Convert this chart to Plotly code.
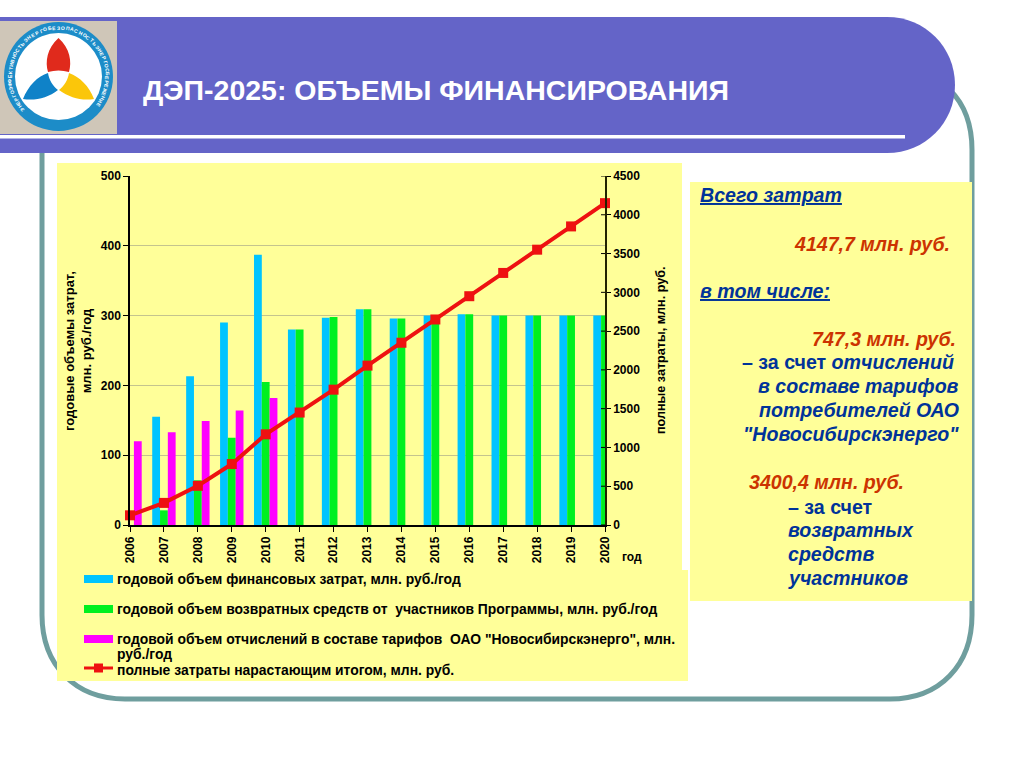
import math
import plotly.graph_objects as go

W, H = 1024, 768
years = list(range(2006, 2021))
total_costs = [0, 155, 213, 290, 387, 280, 297, 309, 296, 300, 302, 300, 300, 300, 300]
returned = [0, 21, 64, 125, 205, 280, 298, 309, 296, 300, 302, 300, 300, 300, 300]
tariff = [120, 133, 149, 164, 182, 0, 0, 0, 0, 0, 0, 0, 0, 0, 0]
cumulative = [125, 285, 505, 786, 1169, 1450, 1745, 2055, 2350, 2650, 2950, 3250, 3550, 3850, 4150]

left_ticks = [0, 100, 200, 300, 400, 500]
right_ticks = [0, 500, 1000, 1500, 2000, 2500, 3000, 3500, 4000, 4500]

C_BG = "#FFFF99"
C_HDR = "#6464C8"
C_FRAME = "#6F9E9E"
C_CYAN = "#00C4FF"
C_GREEN = "#00F020"
C_MAG = "#FF00FF"
C_RED = "#EE1111"
C_BLUE = "#003399"
C_RUST = "#CC3300"
FONT = "Liberation Sans"


def px(x):
    return x / W


def py(y):
    return 1 - y / H


def P(x, y):
    return f"{px(x):.5f} {py(y):.5f}"


def rect(x0, y0, x1, y1, color):
    return dict(type="rect", xref="paper", yref="paper", x0=px(x0), x1=px(x1), y0=py(y0), y1=py(y1),
                fillcolor=color, line_width=0, layer="below")


def path(d, fill=None, line=None, lw=0):
    s = dict(type="path", xref="paper", yref="paper", path=d, layer="below",
             line=dict(width=lw, color=line or "rgba(0,0,0,0)"))
    if fill:
        s["fillcolor"] = fill
    return s


def text(x, y, s, size=11, color="#000000", anchor="left", angle=0, bold=True, italic=False, align=None):
    t = s
    if bold:
        t = f"<b>{t}</b>"
    if italic:
        t = f"<i>{t}</i>"
    return dict(x=px(x), y=py(y), xref="paper", yref="paper", text=t, showarrow=False,
                xanchor=anchor, yanchor="middle", textangle=angle, align=align or anchor,
                borderpad=0, borderwidth=0,
                font=dict(family=FONT, size=size, color=color))


shapes = []
shapes.append(path(
    f"M {P(42,153)} L {P(42,615)} C {P(42,665)} {P(75,699)} {P(125,699)} "
    f"L {P(890,699)} C {P(940,699)} {P(972,665)} {P(972,615)} L {P(972,150)} "
    f"C {P(972,125)} {P(965,105)} {P(950,90)}",
    line=C_FRAME, lw=5))
shapes.append(path(
    f"M {P(0,17)} L {P(887,17)} C {P(925,17)} {P(955,47)} {P(955,85)} "
    f"C {P(955,123)} {P(925,153)} {P(887,153)} L {P(0,153)} Z", fill=C_HDR))
shapes.append(rect(0, 135, 905, 138.5, "#FFFFFF"))
shapes.append(rect(0, 21, 117, 134, "#CFC6B8"))
shapes.append(dict(type="circle", xref="paper", yref="paper", x0=px(4), x1=px(113), y0=py(22), y1=py(131),
                   fillcolor="#1C8CC8", line_width=0, layer="below"))
shapes.append(dict(type="circle", xref="paper", yref="paper", x0=px(15), x1=px(102), y0=py(33), y1=py(120),
                   fillcolor="#FFFFFF", line_width=0, layer="below"))
shapes.append(path(f"M {P(58.5,38)} C {P(70,48)} {P(72,62)} {P(69,72)} C {P(62,70)} {P(55,70)} {P(48,72)} "
                   f"C {P(45,62)} {P(47,48)} {P(58.5,38)} Z", fill="#E02A1C"))
shapes.append(path(f"M {P(23,99)} C {P(28,86)} {P(38,76)} {P(48,73)} C {P(49,80)} {P(53,86)} {P(58,90)} "
                   f"C {P(48,98)} {P(35,101)} {P(23,99)} Z", fill="#0F82C8"))
shapes.append(path(f"M {P(94,99)} C {P(89,86)} {P(80,77)} {P(69,73)} C {P(68,80)} {P(64,86)} {P(59,90)} "
                   f"C {P(70,98)} {P(82,101)} {P(94,99)} Z", fill="#FBC60A"))
shapes.append(rect(57, 163, 682, 570, C_BG))
shapes.append(rect(57, 570, 688, 681, C_BG))
shapes.append(rect(690, 182, 972, 601, C_BG))
shapes.append(rect(84, 575, 113, 583, C_CYAN))
shapes.append(rect(84, 605, 113, 613, C_GREEN))
shapes.append(rect(84, 635, 113, 643, C_MAG))
shapes.append(rect(84, 666.5, 113, 669.5, C_RED))
shapes.append(rect(94, 663.5, 103, 672.5, C_RED))
for v in right_ticks:
    shapes.append(dict(type="line", xref="paper", yref="y2", x0=px(601), x1=px(605), y0=v, y1=v,
                       line=dict(color="#000000", width=1)))

LEG = 13.9
RP = 19.6
annotations = [
    text(143, 90, "ДЭП-2025: ОБЪЕМЫ ФИНАНСИРОВАНИЯ", size=28.5, color="#FFFFFF"),
    text(78, 351, "годовые объемы затрат,<br>млн. руб./год", size=13, anchor="center", angle=-90),
    text(661, 351, "полные затраты, млн. руб.", size=12.6, anchor="center", angle=-90),
    text(622, 557, "год", size=12),
    text(117, 579, "годовой объем финансовых затрат, млн. руб./год", size=LEG),
    text(117, 609, "годовой объем возвратных средств от  участников Программы, млн. руб./год", size=LEG),
    text(117, 639, "годовой объем отчислений в составе тарифов  ОАО \"Новосибирскэнерго\", млн.", size=LEG),
    text(117, 654, "руб./год", size=LEG),
    text(117, 670, "полные затраты нарастающим итогом, млн. руб.", size=LEG),
    text(700, 195, "<u>Всего затрат</u>", size=RP, color=C_BLUE, italic=True),
    text(950, 244, "4147,7 млн. руб.", size=RP, color=C_RUST, anchor="right", italic=True),
    text(700, 291, "<u>в том числе:</u>", size=RP, color=C_BLUE, italic=True),
    text(956, 339, "747,3 млн. руб.", size=RP, color=C_RUST, anchor="right", italic=True),
    text(954, 362, "– за счет <i>отчислений</i>", size=RP, color=C_BLUE, anchor="right"),
    text(959, 386, "в составе тарифов", size=RP, color=C_BLUE, anchor="right", italic=True),
    text(959, 410, "потребителей ОАО", size=RP, color=C_BLUE, anchor="right", italic=True),
    text(959, 434, "\"Новосибирскэнерго\"", size=RP, color=C_BLUE, anchor="right", italic=True),
    text(749, 482, "3400,4 млн. руб.", size=RP, color=C_RUST, italic=True),
    text(788, 507, "– за счет", size=RP, color=C_BLUE),
    text(788, 530, "возвратных", size=RP, color=C_BLUE, italic=True),
    text(788, 554, "средств", size=RP, color=C_BLUE, italic=True),
    text(788, 578, "участников", size=RP, color=C_BLUE, italic=True),
]

# lettering round the logo ring
ring_words = [("ЭНЕРГОБЕЗОПАСНОСТЬ", -42, 48), ("ЭНЕРГОЭФФЕКТИВНОСТЬ", -132, -48), ("ЭНЕРГОСБЕРЕЖЕНИЕ", 54, 126)]
for word, a0, a1 in ring_words:
    for i, ch in enumerate(word):
        a = a0 + (a1 - a0) * i / (len(word) - 1)
        r = math.radians(a)
        annotations.append(text(58.5 + 49 * math.sin(r), 76.5 - 49 * math.cos(r), ch, size=5, color="#FFFFFF",
                                anchor="center", angle=a))

fig = go.Figure()
fig.add_bar(x=years, y=total_costs, name="годовой объем финансовых затрат, млн. руб./год", marker_color=C_CYAN, marker_line_width=0)
fig.add_bar(x=years, y=returned, name="годовой объем возвратных средств от участников Программы, млн. руб./год", marker_color=C_GREEN, marker_line_width=0)
fig.add_bar(x=years, y=tariff, name="годовой объем отчислений в составе тарифов ОАО \"Новосибирскэнерго\", млн. руб./год", marker_color=C_MAG, marker_line_width=0)
fig.add_scatter(x=years, y=cumulative, name="полные затраты нарастающим итогом, млн. руб.", yaxis="y2", mode="lines+markers",
                line=dict(color=C_RED, width=4), marker=dict(symbol="square", size=10, color=C_RED), cliponaxis=False)

axfont = dict(family=FONT, size=12, color="#000000", weight="bold")
fig.update_layout(
    width=W, height=H, autosize=False,
    margin=dict(l=0, r=0, t=0, b=0, pad=0, autoexpand=False),
    paper_bgcolor="#FFFFFF", plot_bgcolor="rgba(0,0,0,0)",
    barmode="group", bargap=0.31, bargroupgap=0,
    showlegend=False,
    shapes=shapes, annotations=annotations,
    xaxis=dict(domain=[px(130), px(605)], range=[2006, 2020], tickvals=years, ticktext=[str(v) for v in years],
               tickangle=-90, tickfont=axfont, ticks="outside", ticklen=5, tickcolor="#000", showgrid=False,
               showline=True, linecolor="#000", linewidth=1.5, zeroline=False, anchor="y", automargin=False),
    yaxis=dict(domain=[py(525), py(176)], range=[0, 500], tickvals=left_ticks, tickfont=axfont, ticks="outside",
               ticklen=5, tickcolor="#000", gridcolor="#C4C48E", gridwidth=1, showline=True, linecolor="#000",
               linewidth=1.5, zeroline=False, anchor="x", automargin=False),
    yaxis2=dict(domain=[py(525), py(176)], range=[0, 4500], tickvals=right_ticks, tickfont=axfont, ticks="outside",
                ticklen=4, tickcolor="#000", showgrid=False, showline=True, linecolor="#222200", linewidth=1.5,
                zeroline=False, overlaying="y", side="right", anchor="x", automargin=False),
    hovermode=False,
)
fig.write_html("out.html", config={"displayModeBar": False}, post_script="document.body.style.margin='0';document.body.style.overflow='hidden';")
